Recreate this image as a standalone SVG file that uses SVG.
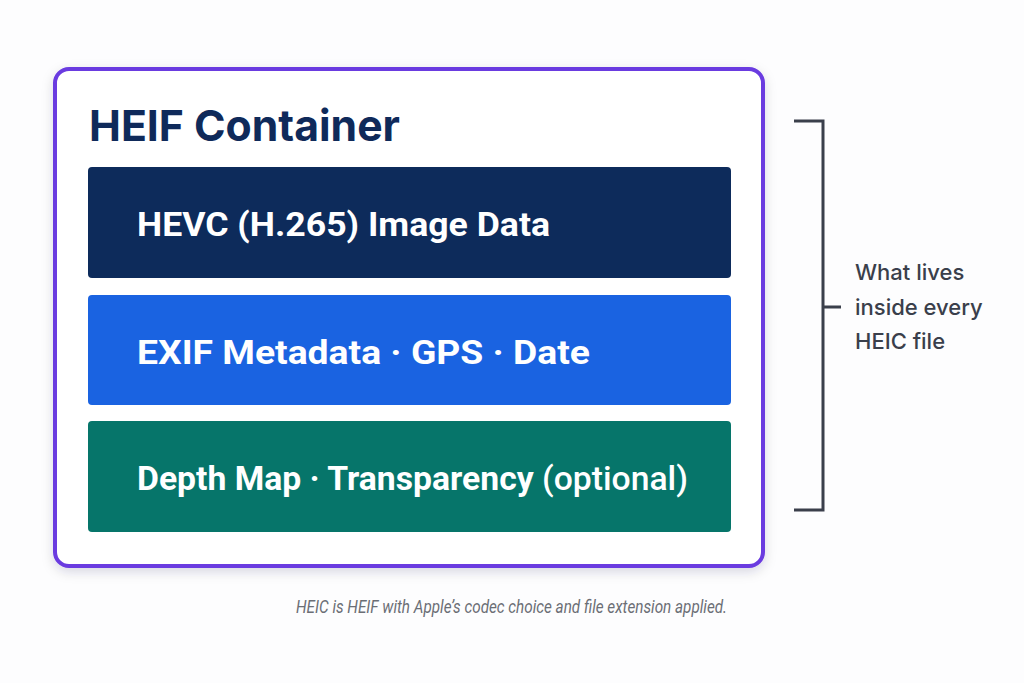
<svg xmlns="http://www.w3.org/2000/svg" width="1024" height="683" viewBox="0 0 1024 683">
  <defs>
    <filter id="shadow" x="-10%" y="-10%" width="120%" height="125%">
      <feDropShadow dx="0" dy="4" stdDeviation="6" flood-color="#1a1a40" flood-opacity="0.15"/>
    </filter>
  </defs>
  <style>
    .band-text { font-family: Roboto, "Liberation Sans", sans-serif; font-weight: 700; font-size: 34px; fill: #ffffff; }
    .light { font-weight: 500; }
    .title { font-family: Inter, "Liberation Sans", sans-serif; font-weight: 700; font-size: 43px; fill: #0f2a5a; }
    .label { font-family: Inter, "Liberation Sans", sans-serif; font-weight: 500; font-size: 22px; fill: #3a3f4b; }
    .caption { font-family: Roboto, "Liberation Sans", sans-serif; font-style: italic; font-size: 18.5px; fill: #6b6e75; }
    .bracket { fill: none; stroke: #3a3f4b; stroke-width: 3; }
  </style>
  <rect width="1024" height="683" fill="#fdfdfe"/>

  <g id="container">
    <rect x="55" y="69" width="708" height="497" rx="14" fill="#ffffff" stroke="#6a3be0" stroke-width="4" filter="url(#shadow)"/>
    <text class="title" x="89" y="141" textLength="311" lengthAdjust="spacingAndGlyphs">HEIF Container</text>
  </g>

  <g id="hevc">
    <rect x="88" y="167" width="643" height="111" rx="4" fill="#0d2b5b"/>
    <text class="band-text" x="137" y="236" textLength="413" lengthAdjust="spacingAndGlyphs">HEVC (H.265) Image Data</text>
  </g>

  <g id="exif">
    <rect x="88" y="295" width="643" height="110" rx="4" fill="#1a63e1"/>
    <text class="band-text" x="137" y="364" textLength="453" lengthAdjust="spacingAndGlyphs">EXIF Metadata · GPS · Date</text>
  </g>

  <g id="depth">
    <rect x="88" y="421" width="643" height="111" rx="4" fill="#06756a"/>
    <text class="band-text" x="137" y="490" textLength="551" lengthAdjust="spacingAndGlyphs">Depth Map · Transparency <tspan class="light">(optional)</tspan></text>
  </g>

  <g id="connectors">
    <path class="bracket" d="M794 121 H823 V510 H794 M823 307 H841"/>
  </g>

  <g id="annotation">
    <text class="label" x="855" y="280">What lives</text>
    <text class="label" x="855" y="315">inside every</text>
    <text class="label" x="855" y="349">HEIC file</text>
  </g>

  <g id="footnote">
    <text class="caption" x="296" y="613" textLength="431" lengthAdjust="spacingAndGlyphs">HEIC is HEIF with Apple’s codec choice and file extension applied.</text>
  </g>
</svg>
